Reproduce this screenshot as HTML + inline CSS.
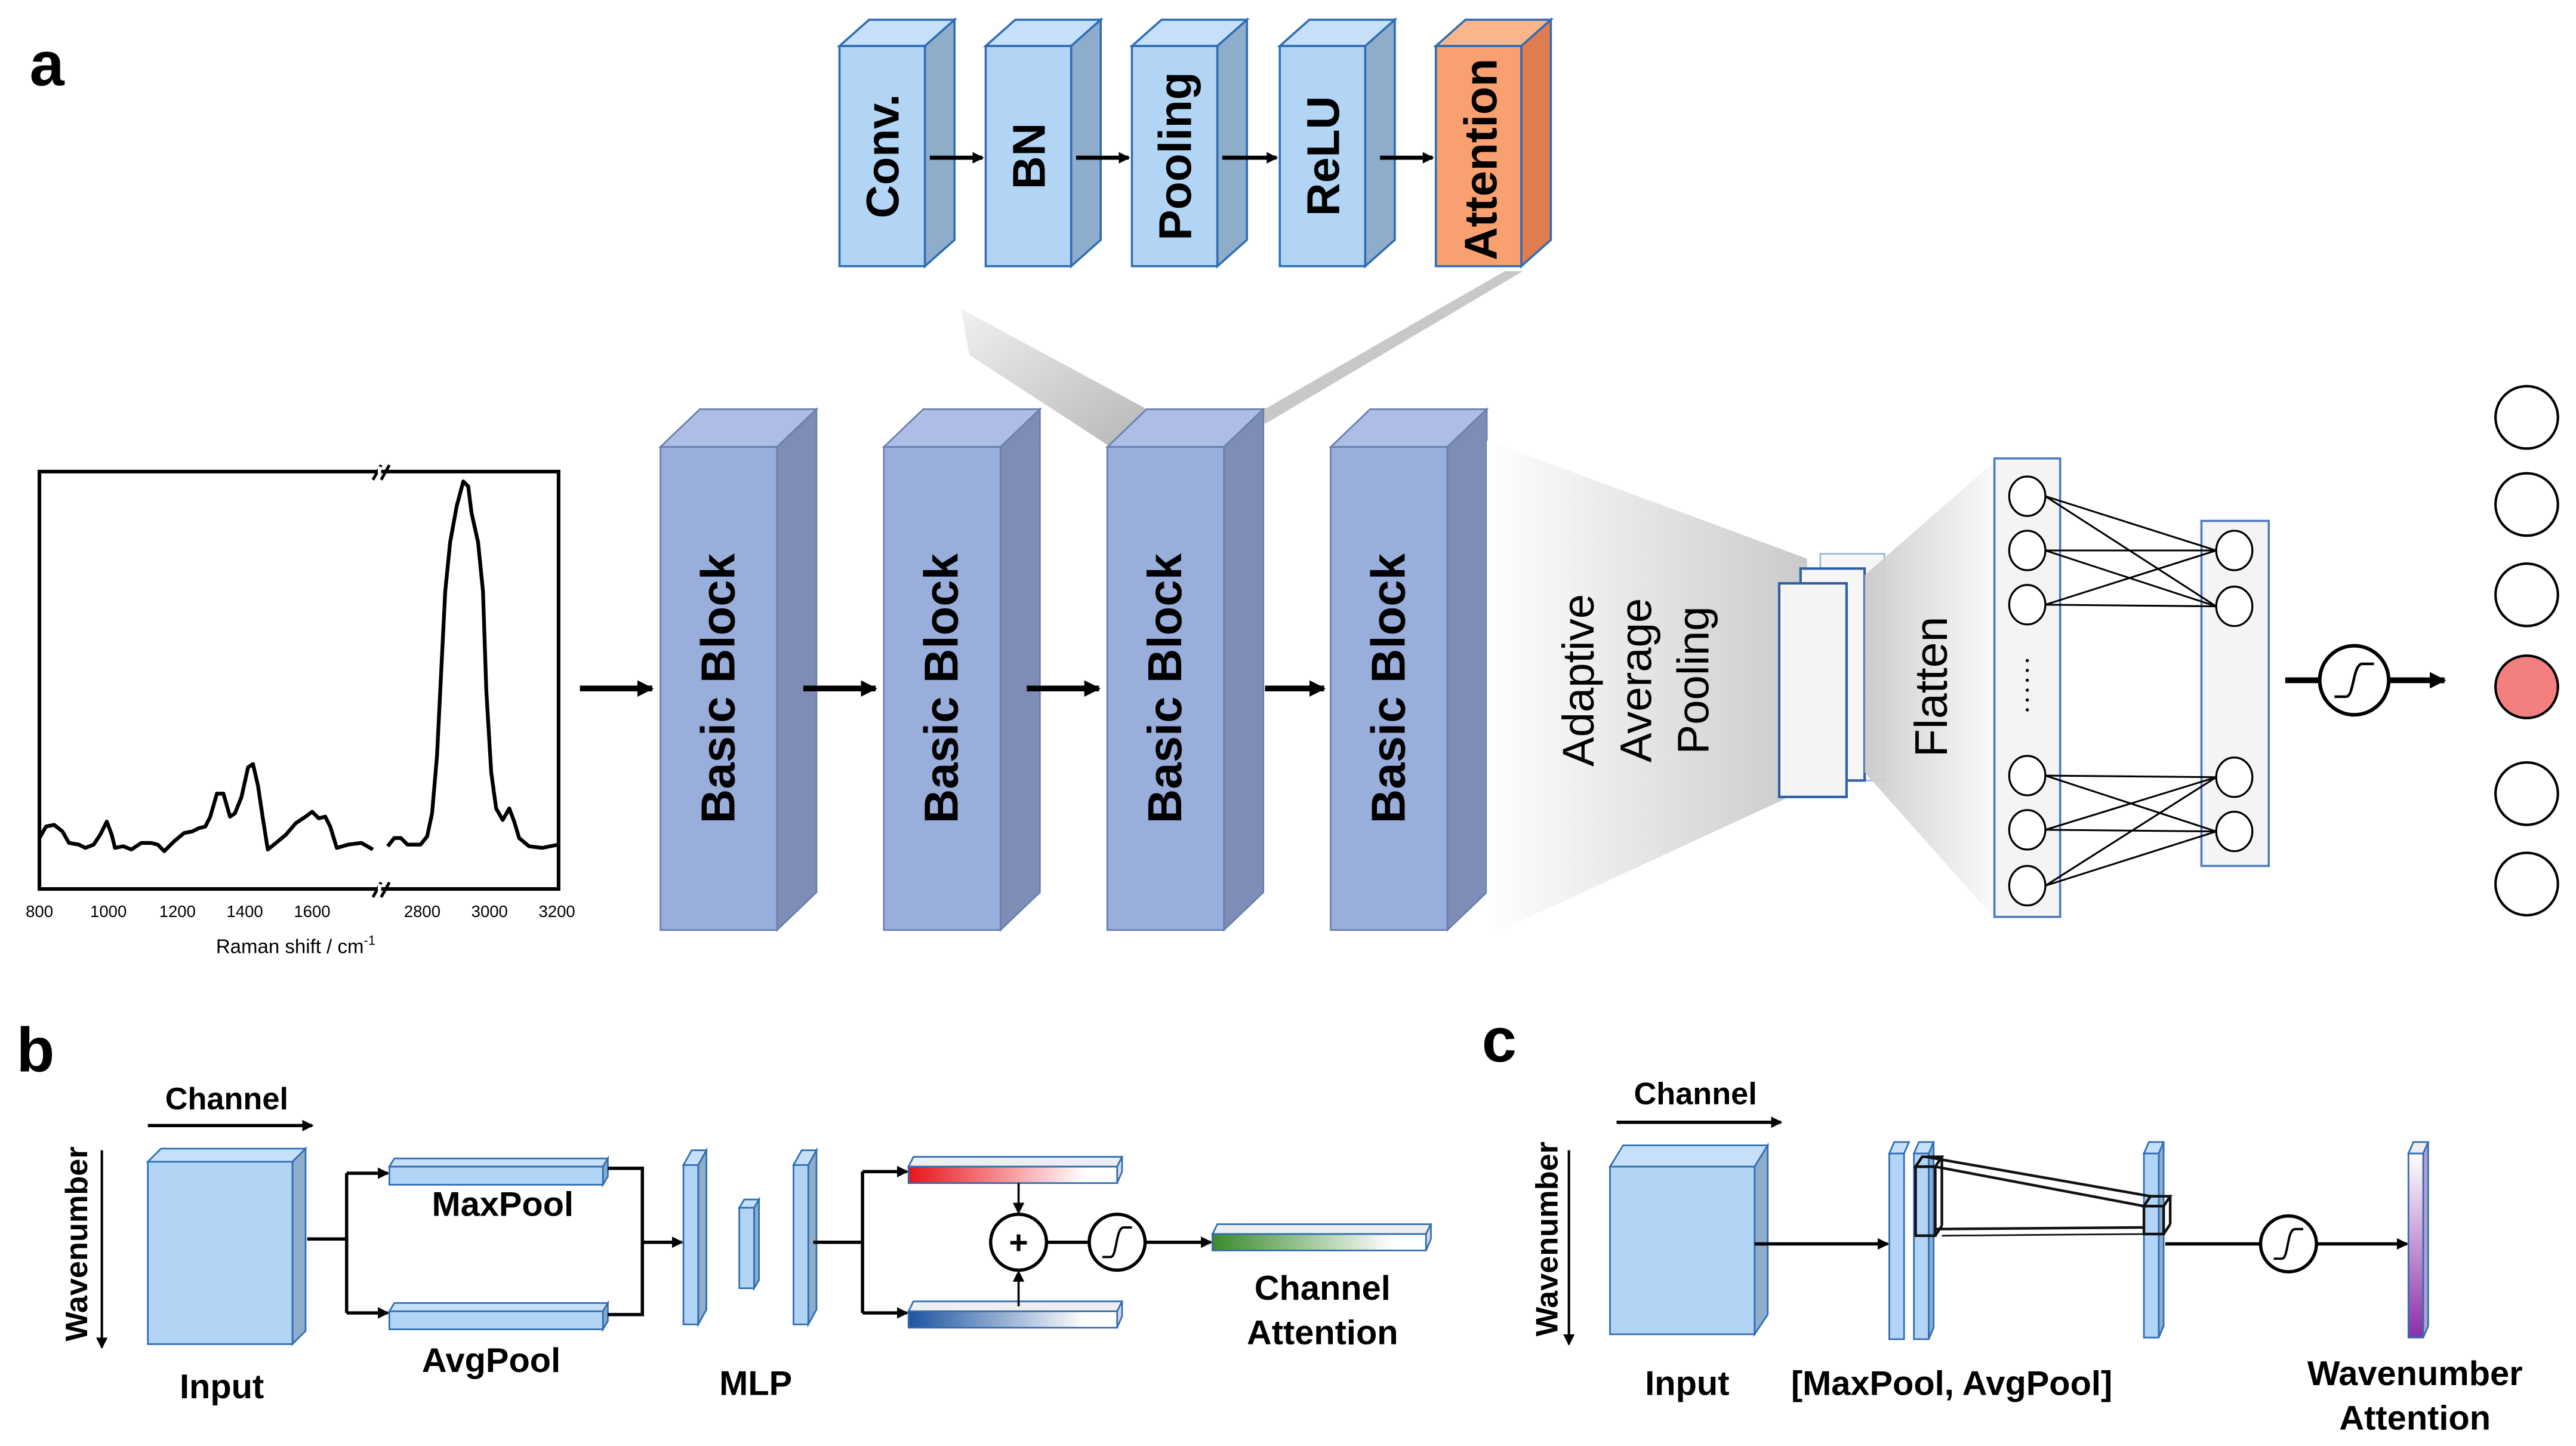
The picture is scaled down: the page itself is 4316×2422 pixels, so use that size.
<!DOCTYPE html>
<html><head><meta charset="utf-8"><style>html,body{margin:0;padding:0;background:#fff}svg{display:block}</style></head>
<body>
<svg width="4316" height="2422" viewBox="0 0 1568 880" preserveAspectRatio="none" xmlns="http://www.w3.org/2000/svg" font-family="Liberation Sans, sans-serif">
<defs>
<marker id="ah" markerWidth="8" markerHeight="8" refX="6" refY="4" orient="auto" markerUnits="userSpaceOnUse"><path d="M0,0.5 L7,4 L0,7.5 z" fill="#000"/></marker>
<marker id="ahb" markerWidth="12" markerHeight="12" refX="9" refY="6" orient="auto" markerUnits="userSpaceOnUse"><path d="M0,1 L10,6 L0,11 z" fill="#000"/></marker>
<linearGradient id="gsh" x1="0" y1="0" x2="1" y2="1"><stop offset="0" stop-color="#eee"/><stop offset="1" stop-color="#a9a9a9"/></linearGradient>
<linearGradient id="gap" x1="0" y1="0" x2="1" y2="0"><stop offset="0" stop-color="#fff"/><stop offset="1" stop-color="#c4c4c4"/></linearGradient>
<linearGradient id="gfl" x1="0" y1="0" x2="1" y2="0"><stop offset="0" stop-color="#c8c8c8"/><stop offset="1" stop-color="#fafafa"/></linearGradient>
<linearGradient id="gred" x1="0" y1="0" x2="1" y2="0"><stop offset="0" stop-color="#e8141c"/><stop offset="0.85" stop-color="#fff"/></linearGradient>
<linearGradient id="gblue" x1="0" y1="0" x2="1" y2="0"><stop offset="0" stop-color="#1d54a0"/><stop offset="0.85" stop-color="#fff"/></linearGradient>
<linearGradient id="ggreen" x1="0" y1="0" x2="1" y2="0"><stop offset="0" stop-color="#3a8a2c"/><stop offset="0.85" stop-color="#fff"/></linearGradient>
<linearGradient id="gpur" x1="0" y1="0" x2="0" y2="1"><stop offset="0" stop-color="#fff"/><stop offset="1" stop-color="#8a2ea8"/></linearGradient>
</defs>

<!-- a label -->
<text x="18" y="52" font-size="38" font-weight="bold">a</text>

<!-- top blocks -->
<g stroke="#2e6db5" stroke-width="1.3">
<g id="tb1"><polygon points="511,28 529,12 581,12 563,28" fill="#c6e0f9"/><polygon points="563,28 581,12 581,146 563,162" fill="#8eadca"/><rect x="511" y="28" width="52" height="134" fill="#b3d5f5"/></g>
<polygon points="600,28 618,12 670,12 652,28" fill="#c6e0f9"/><polygon points="652,28 670,12 670,146 652,162" fill="#8eadca"/><rect x="600" y="28" width="52" height="134" fill="#b3d5f5"/>
<polygon points="689,28 707,12 759,12 741,28" fill="#c6e0f9"/><polygon points="741,28 759,12 759,146 741,162" fill="#8eadca"/><rect x="689" y="28" width="52" height="134" fill="#b3d5f5"/>
<polygon points="779,28 797,12 849,12 831,28" fill="#c6e0f9"/><polygon points="831,28 849,12 849,146 831,162" fill="#8eadca"/><rect x="779" y="28" width="52" height="134" fill="#b3d5f5"/>
<polygon points="874,28 892,12 944,12 926,28" fill="#fbb58b"/><polygon points="926,28 944,12 944,146 926,162" fill="#e07d4e"/><rect x="874" y="28" width="52" height="134" fill="#f9a070"/>
</g>
<g font-size="28" font-weight="bold" text-anchor="middle">
<text transform="translate(547,95) rotate(-90)">Conv.</text>
<text transform="translate(636,95) rotate(-90)">BN</text>
<text transform="translate(725,95) rotate(-90)">Pooling</text>
<text transform="translate(815,95) rotate(-90)">ReLU</text>
<text transform="translate(911,97) rotate(-90)">Attention</text>
</g>
<g stroke="#000" stroke-width="2.5" marker-end="url(#ah)">
<line x1="566" y1="96" x2="598" y2="96"/><line x1="655" y1="96" x2="687" y2="96"/><line x1="744" y1="96" x2="777" y2="96"/><line x1="840" y1="96" x2="872" y2="96"/>
</g>

<!-- zoom shadows -->
<polygon points="585,188 700,250 676,272 590,216" fill="url(#gsh)" opacity="0.85"/>
<polygon points="916,165 927,165 770,258 768,250" fill="#c8c8c8"/>

<!-- basic blocks -->
<g stroke="#6a7fae" stroke-width="1">
<polygon points="402,272 426,249 497,249 473,272" fill="#adbde6"/><polygon points="473,272 497,249 497,543 473,566" fill="#7d8db5"/><rect x="402" y="272" width="71" height="294" fill="#9aaedb"/>
<polygon points="538,272 562,249 633,249 609,272" fill="#adbde6"/><polygon points="609,272 633,249 633,543 609,566" fill="#7d8db5"/><rect x="538" y="272" width="71" height="294" fill="#9aaedb"/>
<polygon points="674,272 698,249 769,249 745,272" fill="#adbde6"/><polygon points="745,272 769,249 769,543 745,566" fill="#7d8db5"/><rect x="674" y="272" width="71" height="294" fill="#9aaedb"/>
<polygon points="810,272 834,249 905,249 881,272" fill="#adbde6"/><polygon points="881,272 905,249 905,543 881,566" fill="#7d8db5"/><rect x="810" y="272" width="71" height="294" fill="#9aaedb"/>
</g>
<g font-size="29" font-weight="bold" text-anchor="middle">
<text transform="translate(447,419) rotate(-90)">Basic Block</text>
<text transform="translate(583,419) rotate(-90)">Basic Block</text>
<text transform="translate(719,419) rotate(-90)">Basic Block</text>
<text transform="translate(855,419) rotate(-90)">Basic Block</text>
</g>
<g stroke="#000" stroke-width="3.5" marker-end="url(#ahb)">
<line x1="353" y1="419" x2="397" y2="419"/><line x1="489" y1="419" x2="533" y2="419"/><line x1="625" y1="419" x2="669" y2="419"/><line x1="770" y1="419" x2="806" y2="419"/>
</g>

<!-- spectrum -->
<rect x="24" y="287" width="316" height="254" fill="none" stroke="#000" stroke-width="2.2"/>
<g stroke="#000" stroke-width="1.8"><line x1="227" y1="292" x2="232" y2="283"/><line x1="232" y1="292" x2="237" y2="283"/><line x1="227" y1="546" x2="232" y2="537"/><line x1="232" y1="546" x2="237" y2="537"/></g>
<rect x="230" y="284" width="2" height="6" fill="#fff"/><rect x="230" y="538" width="2" height="6" fill="#fff"/>
<polyline fill="none" stroke="#000" stroke-width="2.3" stroke-linejoin="round" points="24,510 28,503 33,502 38,506 42,513 48,514 52,516 57,514 61,508 65,500 68,508 70,516 75,515 80,517 86,513 92,513 96,514 100,518 106,512 112,507 117,506 121,504 125,503 128,497 132,483 136,483 140,497 143,495 147,485 151,467 154,465 157,478 160,498 163,517 168,513 174,508 180,501 186,497 190,494 194,498 198,497 201,503 205,516 212,514 220,513 227,517"/>
<polyline fill="none" stroke="#000" stroke-width="2.3" stroke-linejoin="round" points="236,515 240,510 244,510 248,514 256,514 260,509 263,495 266,460 268,420 271,360 274,330 278,308 282,293 285,296 287,312 291,330 294,360 296,420 299,470 302,492 306,499 310,492 313,500 316,510 322,515 330,516 340,514"/>
<g font-size="10" text-anchor="middle">
<text x="24" y="558">800</text><text x="66" y="558">1000</text><text x="108" y="558">1200</text><text x="149" y="558">1400</text><text x="190" y="558">1600</text><text x="257" y="558">2800</text><text x="298" y="558">3000</text><text x="339" y="558">3200</text>
</g>
<text x="180" y="580" font-size="12" text-anchor="middle">Raman shift / cm<tspan font-size="8" dy="-5">-1</tspan></text>

<!-- adaptive avg pooling wedge -->
<polygon points="905,268 1100,340 1100,480 905,570" fill="url(#gap)" opacity="0.9"/>
<g font-size="27" text-anchor="middle">
<text transform="translate(970,414) rotate(-90)">Adaptive</text>
<text transform="translate(1005,414) rotate(-90)">Average</text>
<text transform="translate(1040,414) rotate(-90)">Pooling</text>
</g>
<rect x="1108" y="337" width="39" height="138" fill="#f6f6f6" stroke="#9fb8d8" stroke-width="1"/>
<rect x="1096" y="346" width="39" height="129" fill="#f6f6f6" stroke="#2e5fa8" stroke-width="1.5"/>
<rect x="1083" y="355" width="41" height="130" fill="#f4f4f4" stroke="#2e5fa8" stroke-width="1.5"/>
<polygon points="1135,350 1215,280 1215,560 1135,470" fill="url(#gfl)" opacity="0.9"/>
<text transform="translate(1185,418) rotate(-90)" font-size="28" text-anchor="middle">Flatten</text>

<!-- FC -->
<rect x="1214" y="279" width="40" height="279" fill="#f4f4f4" stroke="#4a7bc0" stroke-width="1.3"/>
<rect x="1340" y="317" width="41" height="210" fill="#f4f4f4" stroke="#4a7bc0" stroke-width="1.3"/>
<g stroke="#000" stroke-width="1.1">
<line x1="1245" y1="302" x2="1349" y2="335"/><line x1="1245" y1="302" x2="1349" y2="369"/>
<line x1="1245" y1="335" x2="1349" y2="335"/><line x1="1245" y1="335" x2="1349" y2="369"/>
<line x1="1245" y1="368" x2="1349" y2="335"/><line x1="1245" y1="368" x2="1349" y2="369"/>
<line x1="1245" y1="472" x2="1349" y2="473"/><line x1="1245" y1="472" x2="1349" y2="506"/>
<line x1="1245" y1="505" x2="1349" y2="473"/><line x1="1245" y1="505" x2="1349" y2="506"/>
<line x1="1245" y1="539" x2="1349" y2="473"/><line x1="1245" y1="539" x2="1349" y2="506"/>
</g>
<g fill="#fff" stroke="#000" stroke-width="1.2">
<ellipse cx="1234" cy="302" rx="11" ry="12"/><ellipse cx="1234" cy="335" rx="11" ry="12"/><ellipse cx="1234" cy="368" rx="11" ry="12"/>
<ellipse cx="1234" cy="472" rx="11" ry="12"/><ellipse cx="1234" cy="505" rx="11" ry="12"/><ellipse cx="1234" cy="539" rx="11" ry="12"/>
<ellipse cx="1360" cy="335" rx="11" ry="12"/><ellipse cx="1360" cy="369" rx="11" ry="12"/><ellipse cx="1360" cy="473" rx="11" ry="12"/><ellipse cx="1360" cy="506" rx="11" ry="12"/>
</g>
<g fill="#000"><circle cx="1234" cy="402" r="1"/><circle cx="1234" cy="408" r="1"/><circle cx="1234" cy="414" r="1"/><circle cx="1234" cy="420" r="1"/><circle cx="1234" cy="426" r="1"/><circle cx="1234" cy="432" r="1"/></g>

<!-- sigmoid -->
<line x1="1391" y1="414" x2="1412" y2="414" stroke="#000" stroke-width="3.5"/>
<line x1="1454" y1="414" x2="1488" y2="414" stroke="#000" stroke-width="3.5" marker-end="url(#ahb)"/>
<circle cx="1433" cy="414" r="21" fill="#fff" stroke="#000" stroke-width="2.2"/>
<path d="M1421,424 L1428,424 C1433,424 1432,404 1438,404 L1445,404" fill="none" stroke="#000" stroke-width="1.6"/>
<g stroke="#000" stroke-width="1.5" fill="#fff">
<circle cx="1538" cy="254" r="19"/><circle cx="1538" cy="307" r="19"/><circle cx="1538" cy="362" r="19"/>
<circle cx="1538" cy="418" r="19" fill="#f47f7f"/><circle cx="1538" cy="483" r="19"/><circle cx="1538" cy="538" r="19"/>
</g>

<!-- b -->
<text x="10" y="652" font-size="38" font-weight="bold">b</text>
<text x="138" y="675" font-size="19" font-weight="bold" text-anchor="middle">Channel</text>
<line x1="90" y1="685" x2="190" y2="685" stroke="#000" stroke-width="2" marker-end="url(#ah)"/>
<text transform="translate(53,757) rotate(-90)" font-size="19" font-weight="bold" text-anchor="middle">Wavenumber</text>
<line x1="62" y1="700" x2="62" y2="820" stroke="#000" stroke-width="1.5" marker-end="url(#ah)"/>
<g stroke="#2e6db5" stroke-width="1">
<polygon points="90,707 98,699 186,699 178,707" fill="#c6e0f9"/><polygon points="178,707 186,699 186,810 178,818" fill="#8eadca"/><rect x="90" y="707" width="88" height="111" fill="#b3d5f5"/>
<polygon points="237,710 240,705 370,705 367,710" fill="#c6e0f9"/><polygon points="367,710 370,705 370,716 367,721" fill="#8eadca"/><rect x="237" y="710" width="130" height="11" fill="#b3d5f5"/>
<polygon points="237,798 240,793 370,793 367,798" fill="#c6e0f9"/><polygon points="367,798 370,793 370,804 367,809" fill="#8eadca"/><rect x="237" y="798" width="130" height="11" fill="#b3d5f5"/>
<polygon points="416,709 421,700 430,700 425,709" fill="#c6e0f9"/><polygon points="425,709 430,700 430,797 425,806" fill="#8eadca"/><rect x="416" y="709" width="9" height="97" fill="#b3d5f5"/>
<polygon points="450,735 453,730 462,730 459,735" fill="#c6e0f9"/><polygon points="459,735 462,730 462,779 459,784" fill="#8eadca"/><rect x="450" y="735" width="9" height="49" fill="#b3d5f5"/>
<polygon points="483,709 488,700 497,700 492,709" fill="#c6e0f9"/><polygon points="492,709 497,700 497,797 492,806" fill="#8eadca"/><rect x="483" y="709" width="9" height="97" fill="#b3d5f5"/>
<polygon points="553,710 556,704 683,704 680,710" fill="#eee"/><polygon points="680,710 683,704 683,713 680,720" fill="#ddd"/><rect x="553" y="710" width="127" height="10" fill="url(#gred)"/>
<polygon points="553,798 556,792 683,792 680,798" fill="#eee"/><polygon points="680,798 683,792 683,801 680,808" fill="#ddd"/><rect x="553" y="798" width="127" height="10" fill="url(#gblue)"/>
<polygon points="738,751 741,745 871,745 868,751" fill="#eee"/><polygon points="868,751 871,745 871,754 868,761" fill="#ddd"/><rect x="738" y="751" width="130" height="10" fill="url(#ggreen)"/>
</g>
<g stroke="#000" stroke-width="2" fill="none">
<polyline points="187,754 211,754"/><polyline points="211,714 211,799"/>
<line x1="211" y1="714" x2="236" y2="714" marker-end="url(#ah)"/><line x1="211" y1="799" x2="236" y2="799" marker-end="url(#ah)"/>
<polyline points="370,711 391,711 391,800 370,800"/>
<line x1="391" y1="756" x2="415" y2="756" marker-end="url(#ah)"/>
<polyline points="495,756 525,756"/><polyline points="525,713 525,799"/>
<line x1="525" y1="713" x2="552" y2="713" marker-end="url(#ah)"/><line x1="525" y1="799" x2="552" y2="799" marker-end="url(#ah)"/>
<line x1="620" y1="720" x2="620" y2="738" stroke-width="1.3" marker-end="url(#ah)"/>
<line x1="620" y1="795" x2="620" y2="774" stroke-width="1.3" marker-end="url(#ah)"/>
<line x1="637" y1="756" x2="663" y2="756"/><line x1="697" y1="756" x2="737" y2="756" marker-end="url(#ah)"/>
</g>
<circle cx="620" cy="756" r="17" fill="#fff" stroke="#000" stroke-width="2"/>
<text x="620" y="763" font-size="20" font-weight="bold" text-anchor="middle">+</text>
<circle cx="680" cy="756" r="17" fill="#fff" stroke="#000" stroke-width="2"/>
<path d="M671,765 L676,765 C680,765 679,747 684,747 L689,747" fill="none" stroke="#000" stroke-width="1.4"/>
<g font-size="21" font-weight="bold" text-anchor="middle">
<text x="306" y="740">MaxPool</text><text x="299" y="835">AvgPool</text><text x="135" y="851">Input</text><text x="460" y="849">MLP</text>
<text x="805" y="791">Channel</text><text x="805" y="818">Attention</text>
</g>

<!-- c -->
<text x="902" y="646" font-size="38" font-weight="bold">c</text>
<text x="1032" y="672" font-size="19" font-weight="bold" text-anchor="middle">Channel</text>
<line x1="984" y1="683" x2="1084" y2="683" stroke="#000" stroke-width="2" marker-end="url(#ah)"/>
<text transform="translate(948,754) rotate(-90)" font-size="19" font-weight="bold" text-anchor="middle">Wavenumber</text>
<line x1="955" y1="700" x2="955" y2="818" stroke="#000" stroke-width="1.5" marker-end="url(#ah)"/>
<g stroke="#2e6db5" stroke-width="1">
<polygon points="980,710 988,697 1076,697 1068,710" fill="#c6e0f9"/><polygon points="1068,710 1076,697 1076,800 1068,812" fill="#8eadca"/><rect x="980" y="710" width="88" height="102" fill="#b3d5f5"/>
<polygon points="1150,702 1153,695 1162,695 1159,702" fill="#c6e0f9"/><rect x="1150" y="702" width="9" height="113" fill="#b3d5f5"/>
<polygon points="1165,702 1168,695 1177,695 1174,702" fill="#c6e0f9"/><polygon points="1174,702 1177,695 1177,808 1174,815" fill="#8eadca"/><rect x="1165" y="702" width="9" height="113" fill="#b3d5f5"/>
<polygon points="1305,702 1308,695 1317,695 1314,702" fill="#c6e0f9"/><polygon points="1314,702 1317,695 1317,807 1314,814" fill="#8eadca"/><rect x="1305" y="702" width="9" height="112" fill="#b3d5f5"/>
<polygon points="1466,702 1469,695 1478,695 1475,702" fill="#eee"/><polygon points="1475,702 1478,695 1478,807 1475,814" fill="#b9a0c8"/><rect x="1466" y="702" width="9" height="112" fill="url(#gpur)"/>
</g>
<g stroke="#111" stroke-width="1.6" fill="none">
<polygon points="1166,710 1170,704 1182,704 1178,710"/><rect x="1166" y="710" width="12" height="42"/><line x1="1178" y1="752" x2="1182" y2="746"/><line x1="1182" y1="704" x2="1182" y2="746"/>
<polygon points="1305,734 1309,728 1321,728 1317,734"/><rect x="1305" y="734" width="12" height="17"/><line x1="1321" y1="728" x2="1321" y2="745"/><line x1="1317" y1="751" x2="1321" y2="745"/>
<line x1="1172" y1="704" x2="1309" y2="728"/><line x1="1178" y1="710" x2="1305" y2="734"/>
<line x1="1178" y1="748" x2="1305" y2="747"/><line x1="1182" y1="752" x2="1305" y2="751" stroke-width="1"/>
</g>
<g stroke="#000" stroke-width="2" fill="none">
<line x1="1068" y1="757" x2="1149" y2="757" marker-end="url(#ah)"/>
<line x1="1318" y1="757" x2="1376" y2="757"/><line x1="1410" y1="757" x2="1465" y2="757" marker-end="url(#ah)"/>
</g>
<circle cx="1393" cy="757" r="17" fill="#fff" stroke="#000" stroke-width="2"/>
<path d="M1384,766 L1389,766 C1393,766 1392,748 1397,748 L1402,748" fill="none" stroke="#000" stroke-width="1.4"/>
<g font-size="21" font-weight="bold" text-anchor="middle">
<text x="1027" y="849">Input</text><text x="1188" y="849">[MaxPool, AvgPool]</text>
<text x="1470" y="843">Wavenumber</text><text x="1470" y="870">Attention</text>
</g>
</svg>
</body></html>
